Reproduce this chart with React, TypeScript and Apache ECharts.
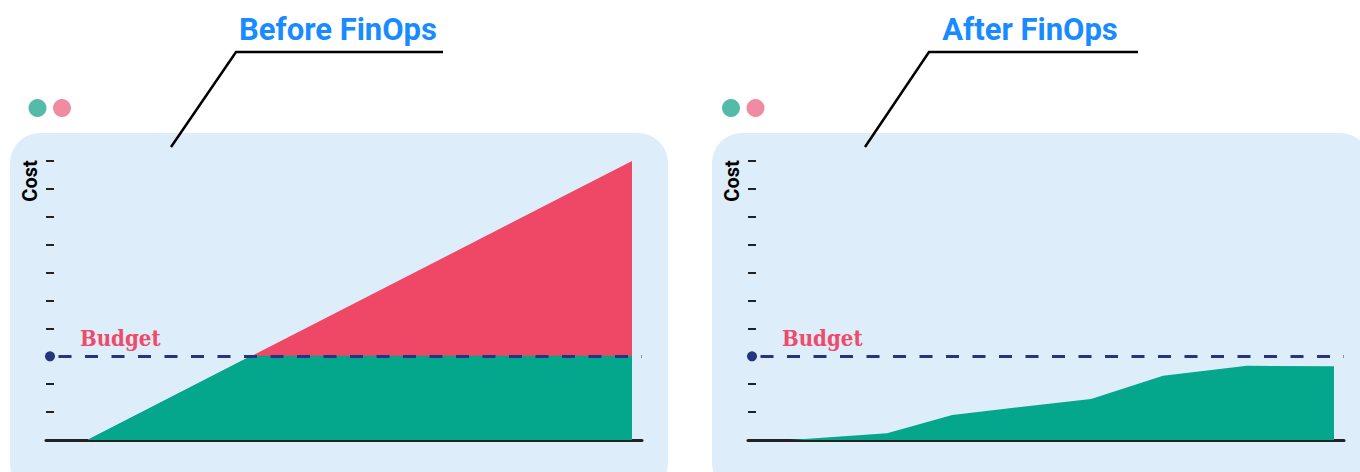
import React, { useEffect, useRef } from "react";
import * as echarts from "echarts";

// ---- data ----
const panelTitles = ["Before FinOps", "After FinOps"];
const yAxisName = "Cost";
const budgetLabel = "Budget";
const BUDGET = 3;
const Y_MIN = 0;
const Y_MAX = 10;
const Y_STEP = 1;
const X_START = 0;
const X_END = 12;

// Before FinOps: total cost rises linearly; the part within budget is drawn over it
const beforeCost = [
  [0, 0],
  [12, 10],
];
const beforeWithinBudget = [
  [0, 0],
  [3.6, 3],
  [12, 3],
];
// After FinOps: cost stays under budget
const afterCost = [
  [0, 0],
  [2.14, 0.24],
  [3.58, 0.9],
  [6.64, 1.47],
  [8.23, 2.3],
  [10.08, 2.66],
  [12, 2.64],
];

// ---- styles ----
const TEAL = "#04a78c";
const RED = "#ee4866";
const NAVY = "#27357f";
const PANEL = "#ddedf9";
const TITLE_BLUE = "#178bff";
const INK = "#222222";

// layout: axis spans 596px, data 0..12 spans 544px starting 42px in
const PX_AXIS = 596;
const PX_PER_UNIT = 544 / (X_END - X_START);
const X_MIN = X_START - 42 / PX_PER_UNIT;
const X_MAX = X_MIN + PX_AXIS / PX_PER_UNIT;
const DOT_X = X_MIN + 4 / PX_PER_UNIT;

function budgetMarks() {
  return {
    markLine: {
      silent: true,
      symbol: ["none", "none"],
      lineStyle: { color: NAVY, width: 3, type: [13, 13.5], dashOffset: 14.4 },
      label: {
        show: true,
        position: "insideStartTop",
        formatter: budgetLabel,
        color: "#ee4a6a",
        fontFamily: "DejaVu Serif Condensed, DejaVu Serif",
        fontWeight: "bold",
        fontSize: 22,
        distance: [34, 7],
      },
      emphasis: { disabled: true },
      data: [{ yAxis: BUDGET }],
    },
    markPoint: {
      silent: true,
      symbol: "circle",
      symbolSize: 10,
      itemStyle: { color: NAVY },
      label: { show: false },
      data: [{ coord: [DOT_X, BUDGET] }],
    },
  };
}

export default function App() {
  const ref = useRef<HTMLDivElement>(null);
  useEffect(() => {
    if (!ref.current) return;
    const chart = echarts.init(ref.current, null, { renderer: "svg" });
    const grids = [
      { left: 46, top: 161, width: PX_AXIS, height: 279 },
      { left: 748, top: 161, width: PX_AXIS, height: 279 },
    ];
    const xAxes = grids.map((_, i) => ({
      type: "value",
      gridIndex: i,
      min: X_MIN,
      max: X_MAX,
      axisLine: { show: true, onZero: false, lineStyle: { color: INK, width: 3 } },
      axisTick: { show: false },
      axisLabel: { show: false },
      splitLine: { show: false },
    }));
    const yAxes = grids.map((_, i) => ({
      type: "value",
      gridIndex: i,
      min: Y_MIN,
      max: Y_MAX,
      interval: Y_STEP,
      axisLine: { show: false, onZero: false },
      axisTick: { show: true, inside: true, length: 8, lineStyle: { color: INK, width: 2 } },
      axisLabel: { show: false },
      splitLine: { show: false },
    }));

    const panelLefts = [10, 712];
    const titleCenters = [338, 1030];
    const leaders = [
      [[171, 147], [236, 52], [443, 52]],
      [[865, 147], [929, 52], [1138, 52]],
    ];
    const dotXs = [
      [37.5, 62],
      [731, 755.5],
    ];
    const costX = [29.5, 731.5];

    const graphic: any[] = [];
    panelLefts.forEach((x, i) => {
      graphic.push({
        type: "rect",
        z: -10,
        shape: { x, y: 133, width: 658, height: 360, r: 30 },
        style: { fill: PANEL },
        silent: true,
      });
      graphic.push({
        type: "text",
        x: titleCenters[i],
        y: 29,
        style: {
          text: panelTitles[i],
          align: "center",
          verticalAlign: "middle",
          fill: TITLE_BLUE,
          font: "bold 31px Roboto",
        },
      });
      graphic.push({
        type: "polyline",
        shape: { points: leaders[i] },
        style: { stroke: "#000", lineWidth: 2.5, fill: null },
      });
      graphic.push({
        type: "circle",
        shape: { cx: dotXs[i][0], cy: 108, r: 9 },
        style: { fill: "#55bba8" },
      });
      graphic.push({
        type: "circle",
        shape: { cx: dotXs[i][1], cy: 108, r: 9 },
        style: { fill: "#ef8ca1" },
      });
      graphic.push({
        type: "text",
        x: costX[i],
        y: 181,
        rotation: Math.PI / 2,
        style: {
          text: yAxisName,
          align: "center",
          verticalAlign: "middle",
          fill: "#000",
          font: "bold 20px Roboto",
        },
      });
    });

    chart.setOption({
      animation: false,
      grid: grids,
      xAxis: xAxes,
      yAxis: yAxes,
      graphic,
      series: [
        {
          type: "line",
          xAxisIndex: 0,
          yAxisIndex: 0,
          data: beforeCost,
          symbol: "none",
          lineStyle: { width: 0 },
          areaStyle: { color: RED, opacity: 1 },
          z: 2,
        },
        {
          type: "line",
          xAxisIndex: 0,
          yAxisIndex: 0,
          data: beforeWithinBudget,
          symbol: "none",
          lineStyle: { width: 1, color: TEAL },
          areaStyle: { color: TEAL, opacity: 1 },
          z: 3,
          ...budgetMarks(),
        },
        {
          type: "line",
          xAxisIndex: 1,
          yAxisIndex: 1,
          data: afterCost,
          symbol: "none",
          lineStyle: { width: 0 },
          areaStyle: { color: TEAL, opacity: 1 },
          z: 3,
          ...budgetMarks(),
        },
      ],
    } as any);
    return () => chart.dispose();
  }, []);
  return (
    <div
      ref={ref}
      style={{ position: "fixed", left: 0, top: 0, width: 1360, height: 472, background: "#fff" }}
    />
  );
}
